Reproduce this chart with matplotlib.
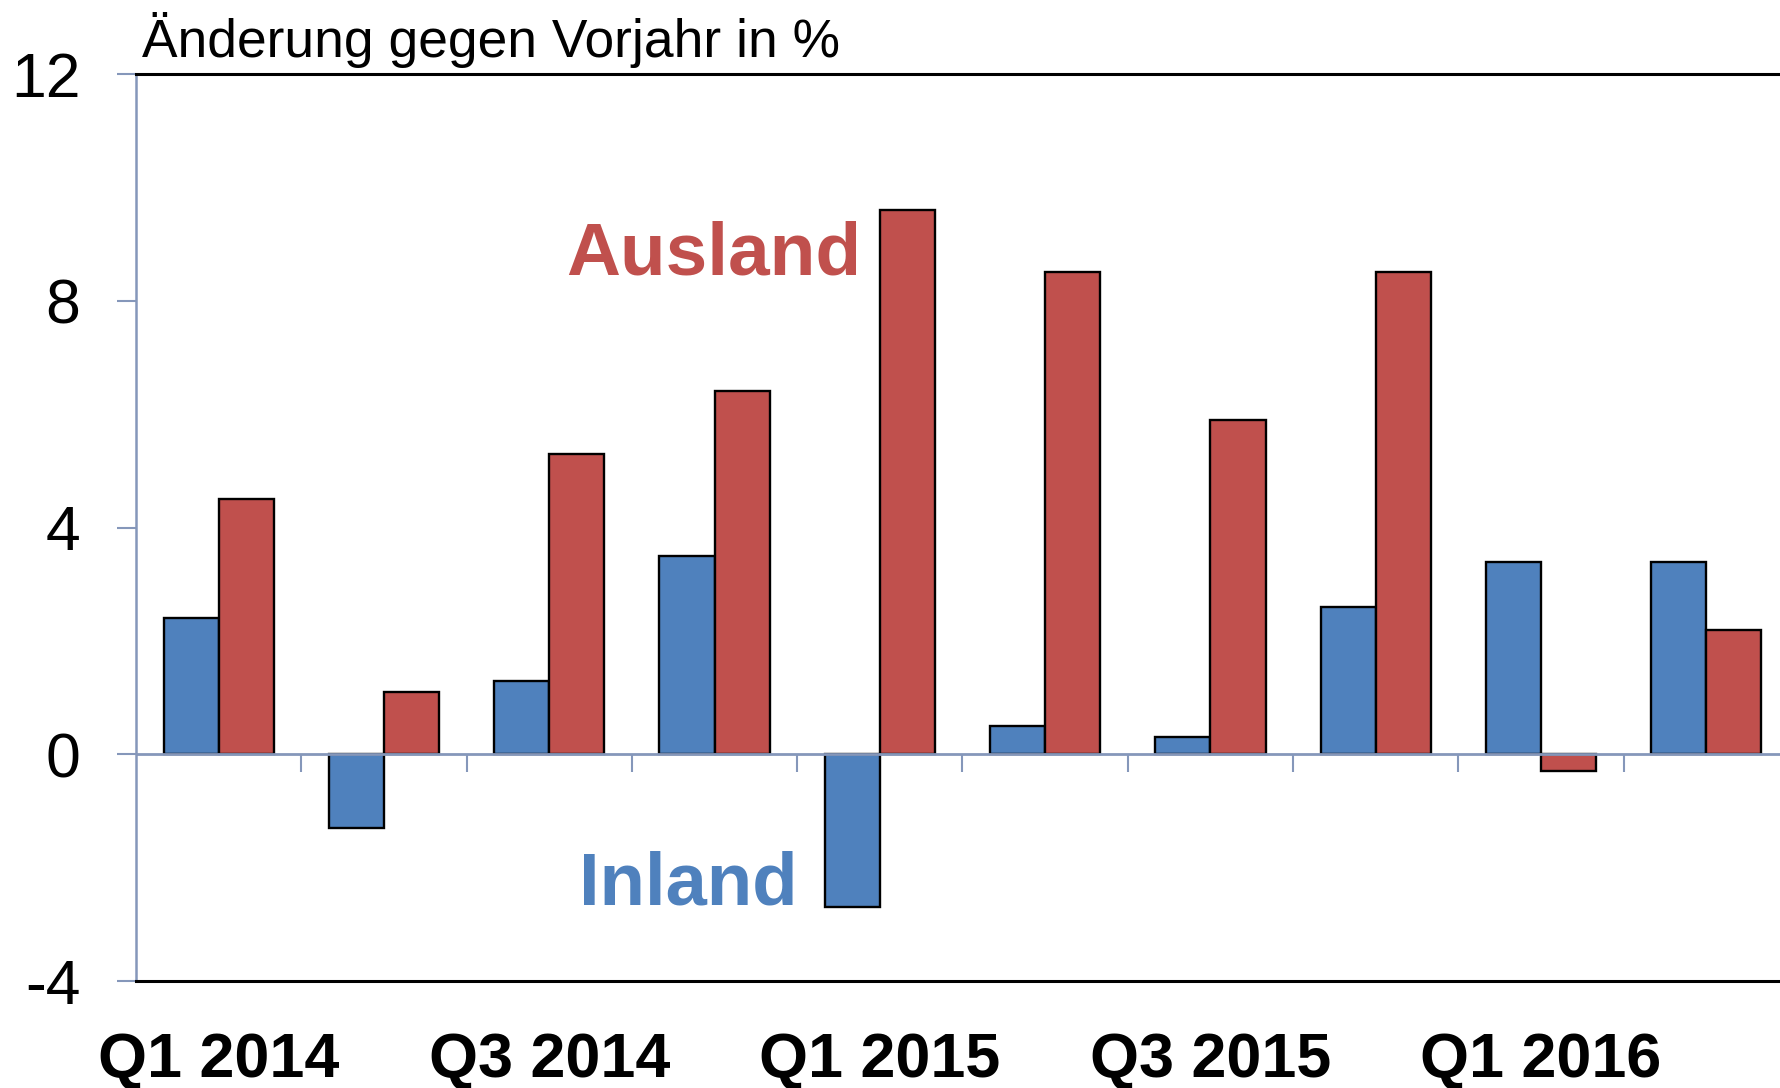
import matplotlib.pyplot as plt
import numpy as np

plt.rcParams['font.family'] = ['Liberation Sans', 'DejaVu Sans']

quarters = ['Q1 2014', 'Q2 2014', 'Q3 2014', 'Q4 2014', 'Q1 2015',
            'Q2 2015', 'Q3 2015', 'Q4 2015', 'Q1 2016', 'Q2 2016']
inland = [2.4, -1.3, 1.3, 3.5, -2.7, 0.5, 0.3, 2.6, 3.4, 3.4]
ausland = [4.5, 1.1, 5.3, 6.4, 9.6, 8.5, 5.9, 8.5, -0.3, 2.2]
yticks = [-4, 0, 4, 8, 12]

blue = '#4f81bd'
red = '#c0504d'
axis_col = '#8597ba'

fig = plt.figure(figsize=(17.8, 10.88), dpi=100)
ax = fig.add_axes([136 / 1780, 1 - 981 / 1088, (1789 - 136) / 1780, (981 - 74) / 1088])

x = np.arange(len(quarters))
w = 1 / 3
ax.bar(x - w / 2, inland, width=w, color=blue, edgecolor='black', linewidth=1.7, zorder=2)
ax.bar(x + w / 2, ausland, width=w, color=red, edgecolor='black', linewidth=1.7, zorder=2)

# zero line with group separators hanging below it
ax.axhline(0, color=axis_col, linewidth=2, zorder=3)
ax.vlines(x[:-1] + 0.5, -0.32, 0, color=axis_col, linewidth=1.5, zorder=3)

ax.set_xlim(-0.5, len(quarters) - 0.5)
ax.set_ylim(-4, 12)
ax.set_yticks(yticks)
ax.set_yticklabels([str(v) for v in yticks], fontsize=45)
ax.tick_params(axis='y', length=14, width=1.5, color=axis_col, pad=26)

ax.set_xticks(x[::2])
ax.set_xticklabels(quarters[::2], fontsize=45.3, fontweight='bold')
ax.tick_params(axis='x', length=0, pad=36)

ax.spines['left'].set_color(axis_col)
ax.spines['left'].set_linewidth(1.8)
ax.spines['right'].set_visible(False)
ax.spines['top'].set_linewidth(2.2)
ax.spines['bottom'].set_linewidth(2.2)

fig.text(142 / 1780, 1 - 57 / 1088, 'Änderung gegen Vorjahr in %', fontsize=38.4,
         ha='left', va='baseline')
ax.text(3.89, 8.46, 'Ausland', color=red, fontsize=53.8, fontweight='bold',
        ha='right', va='baseline')
ax.text(3.50, -2.65, 'Inland', color=blue, fontsize=53.5, fontweight='bold',
        ha='right', va='baseline')

fig.savefig('out.png', dpi=100)
